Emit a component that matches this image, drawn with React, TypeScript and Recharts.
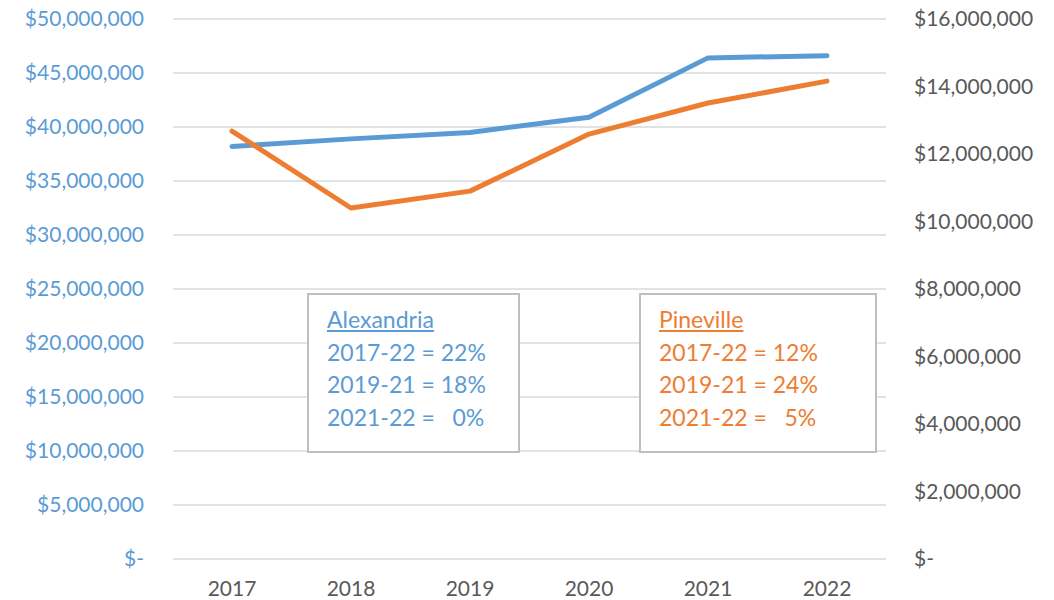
import {CartesianGrid, Line, LineChart, XAxis, YAxis} from 'recharts';

const years = ['2017', '2018', '2019', '2020', '2021', '2022'];
const alexandria = [38200000, 38900000, 39500000, 40900000, 46400000, 46600000];
const pineville = [12680000, 10400000, 10900000, 12590000, 13510000, 14160000];

const leftTicks = [0, 5000000, 10000000, 15000000, 20000000, 25000000, 30000000, 35000000, 40000000, 45000000, 50000000];
const rightTicks = [0, 2000000, 4000000, 6000000, 8000000, 10000000, 12000000, 14000000, 16000000];

const alexandriaNotes = ['2017-22 = 22%', '2019-21 = 18%', '2021-22 =   0%'];
const pinevilleNotes = ['2017-22 = 12%', '2019-21 = 24%', '2021-22 =   5%'];

const BLUE = '#5B9BD5';
const ORANGE = '#ED7D31';
const GREY_TEXT = '#595959';
const FONT = 'Lato, "Open Sans", sans-serif';

const money = (v: number) => (v === 0 ? '$-' : '$' + v.toLocaleString('en-US'));

const chartData = years.map((year, i) => ({
  year,
  alexandria: alexandria[i],
  pineville: pineville[i],
}));

function NoteBox({title, lines, color, left, width}: {title: string; lines: string[]; color: string; left: number; width: number}) {
  return (
    <div
      style={{
        position: 'absolute',
        left,
        top: 293,
        width,
        height: 160,
        boxSizing: 'border-box',
        border: '2px solid #BFBFBF',
        background: '#fff',
        padding: '8px 0 0 18px',
        color,
        fontFamily: FONT,
        fontSize: 23,
        lineHeight: '32.5px',
        whiteSpace: 'pre',
      }}
    >
      <div style={{textDecoration: 'underline'}}>{title}</div>
      {lines.map((l) => (
        <div key={l}>{l}</div>
      ))}
    </div>
  );
}

export default function App() {
  return (
    <div style={{position: 'absolute', left: 0, top: 0, width: 1054, height: 600, background: '#fff'}}>
      <LineChart width={1054} height={600} data={chartData} margin={{top: 19, right: 0, bottom: 7, left: 0}}>
        <CartesianGrid yAxisId="left" vertical={false} stroke="#D9D9D9" strokeWidth={1.5} />
        <XAxis
          dataKey="year"
          axisLine={false}
          tickLine={false}
          tickMargin={16}
          height={34}
          padding={{left: 59, right: 59}}
          tick={{fill: GREY_TEXT, fontSize: 21, fontFamily: FONT}}
        />
        <YAxis
          yAxisId="left"
          domain={[0, 50000000]}
          ticks={leftTicks}
          tickFormatter={money}
          axisLine={false}
          tickLine={false}
          tickMargin={23}
          width={173}
          tick={{fill: BLUE, fontSize: 21, fontFamily: FONT}}
        />
        <YAxis
          yAxisId="right"
          orientation="right"
          domain={[0, 16000000]}
          ticks={rightTicks}
          tickFormatter={money}
          axisLine={false}
          tickLine={false}
          tickMargin={22}
          width={168}
          tick={{fill: GREY_TEXT, fontSize: 21, fontFamily: FONT, textAnchor: 'start'}}
        />
        <Line
          yAxisId="left"
          dataKey="alexandria"
          stroke={BLUE}
          strokeWidth={5}
          strokeLinecap="round"
          strokeLinejoin="round"
          dot={false}
          isAnimationActive={false}
        />
        <Line
          yAxisId="right"
          dataKey="pineville"
          stroke={ORANGE}
          strokeWidth={5}
          strokeLinecap="round"
          strokeLinejoin="round"
          dot={false}
          isAnimationActive={false}
        />
      </LineChart>
      <NoteBox title="Alexandria" lines={alexandriaNotes} color={BLUE} left={307} width={213} />
      <NoteBox title="Pineville" lines={pinevilleNotes} color={ORANGE} left={639} width={238} />
    </div>
  );
}
